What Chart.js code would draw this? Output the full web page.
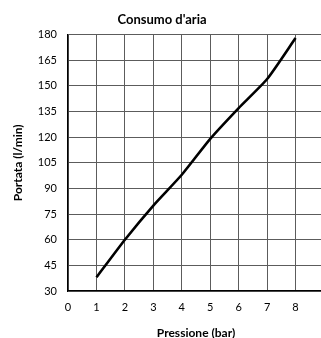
<!DOCTYPE html>
<html>
<head>
<meta charset="utf-8">
<script src="https://cdn.jsdelivr.net/npm/chart.js@4"></script>
<style>
  html, body { margin: 0; padding: 0; background: #fff; overflow: hidden; }
  #wrap { width: 400px; height: 338px; }
</style>
</head>
<body>
<div id="wrap"><canvas id="chart" width="400" height="338"></canvas></div>
<script>
// dati
const pressione = [1, 2, 3, 4, 5, 6, 7, 8];
const portata = [38, 60, 80, 98, 119, 137, 154, 178];
const titolo = "Consumo d'aria";
const titoloX = 'Pressione (bar)';
const titoloY = 'Portata (l/min)';

const font = 'Lato, "Open Sans", sans-serif';
const grigio = '#5c5c5c';

new Chart(document.getElementById('chart'), {
    type: 'line',
    data: {
        datasets: [{
            data: pressione.map((p, i) => ({ x: p, y: portata[i] })),
            borderColor: '#000',
            borderWidth: 2.6,
            pointRadius: 0,
            tension: 0.2,
            fill: false
        }]
    },
    options: {
        responsive: false,
        animation: false,
        layout: { padding: { left: 0, right: 76, top: 0, bottom: 0 } },
        plugins: {
            legend: { display: false },
            tooltip: { enabled: false },
            title: {
                display: true,
                text: titolo,
                color: '#000',
                font: { family: font, size: 13, weight: 'bold' },
                padding: { top: 12, bottom: 7 }
            }
        },
        scales: {
            x: {
                type: 'linear',
                min: 0,
                max: 9,
                ticks: { stepSize: 1, color: '#000', font: { family: font, size: 11 }, padding: 10 },
                grid: { color: grigio, drawTicks: false },
                border: { color: '#000', width: 1.3 },
                title: { display: true, text: titoloX, color: '#000', font: { family: font, size: 12, weight: 'bold' }, padding: { top: 14, bottom: -2 } },
                afterFit: s => { s.height = 47; }
            },
            y: {
                min: 30,
                max: 180,
                ticks: { stepSize: 15, color: '#000', font: { family: font, size: 11 }, padding: 11 },
                grid: { color: grigio, drawTicks: false },
                border: { color: '#000', width: 1.3 },
                title: { display: true, text: titoloY, color: '#000', font: { family: font, size: 12, weight: 'bold' }, padding: { top: 11, bottom: 0 } },
                afterFit: s => { s.width = 68; }
            }
        }
    }
});
</script>
</body>
</html>
